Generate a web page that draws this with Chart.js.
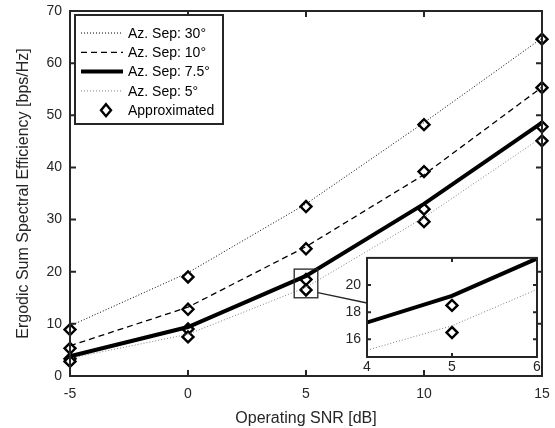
<!DOCTYPE html>
<html>
<head>
<meta charset="utf-8">
<script src="https://cdn.jsdelivr.net/npm/chart.js@4.4.0/dist/chart.umd.min.js"></script>
<style>
    html, body { margin: 0; padding: 0; background: #fff; }
    #wrap { position: relative; width: 555px; height: 428px; }
    #mainChart { position: absolute; left: 0; top: 0; }
    #insetChart { position: absolute; left: 335px; top: 250px; }
</style>
</head>
<body>
<div id="wrap">
    <canvas id="mainChart" width="555" height="428"></canvas>
    <canvas id="insetChart" width="215" height="130"></canvas>
</div>
<script>
// operating SNR points [dB]
const snrDb = [-5, 0, 5, 10, 15];

// simulated curves, one per azimuth separation
const sep30 = [9.6, 19.8, 33, 48.6, 64.8];
const sep10 = [5.8, 13.2, 24.8, 38.6, 55.4];
const sep75 = [3.8, 9.4, 19.2, 33.0, 48.6];
const sep5 = [3.4, 8.0, 17.0, 30.4, 45.8];

// approximated values (diamonds)
const approx30 = [8.9, 19.0, 32.5, 48.2, 64.6];
const approx10 = [5.3, 12.8, 24.4, 39.2, 55.3];
const approx75 = [3.3, 9.0, 18.5, 32.0, 47.8];
const approx5 = [2.8, 7.5, 16.5, 29.6, 45.1];

const xTicks = [-5, 0, 5, 10, 15];
const yTicks = [0, 10, 20, 30, 40, 50, 60, 70];
const insetXTicks = [4, 5, 6];
const insetYTicks = [16, 18, 20];

const seriesNames = ['Az. Sep: 30\u00B0', 'Az. Sep: 10\u00B0', 'Az. Sep: 7.5\u00B0', 'Az. Sep: 5\u00B0', 'Approximated'];

const FONT = '"Liberation Sans", Arial, sans-serif';
const AXIS_COLOR = '#262626';

const lineStyles = [
    { color: '#000', width: 1, dash: [1, 2] },
    { color: '#000', width: 1.3, dash: [6, 4] },
    { color: '#000', width: 4, dash: [] },
    { color: '#808080', width: 1, dash: [1, 2] }
];

function toPoints(ys) {
    return snrDb.map((x, i) => ({ x: x, y: ys[i] }));
}

function lineDataset(label, ys, st) {
    return {
        label: label, data: toPoints(ys), showLine: true,
        borderColor: st.color, borderWidth: st.width, borderDash: st.dash,
        pointRadius: 0, pointHoverRadius: 0, fill: false, tension: 0, clip: false
    };
}

const approxPoints = [approx30, approx10, approx75, approx5].flatMap(toPoints);

function markerDataset(pts) {
    return {
        label: 'Approximated', data: pts, showLine: false,
        pointStyle: 'rectRot', pointRadius: 5.5, pointBorderWidth: 2.4,
        pointBackgroundColor: '#fff', pointBorderColor: '#000', clip: false
    };
}

function drawDiamond(ctx, x, y) {
    ctx.save();
    ctx.beginPath();
    ctx.moveTo(x, y - 6); ctx.lineTo(x + 5, y); ctx.lineTo(x, y + 6); ctx.lineTo(x - 5, y);
    ctx.closePath();
    ctx.fillStyle = '#fff'; ctx.fill();
    ctx.lineWidth = 2.4; ctx.strokeStyle = '#000'; ctx.stroke();
    ctx.restore();
}

// box around the axes with inward ticks on all four sides
const boxTicks = {
    id: 'boxTicks',
    afterDatasetsDraw(chart, args, opts) {
        const { ctx, chartArea: a, scales } = chart;
        const len = opts.len || 5;
        ctx.save();
        ctx.strokeStyle = AXIS_COLOR;
        ctx.lineWidth = opts.width || 2;
        ctx.setLineDash([]);
        ctx.strokeRect(a.left, a.top, a.right - a.left, a.bottom - a.top);
        ctx.beginPath();
        scales.x.ticks.forEach(t => {
            const px = scales.x.getPixelForValue(t.value);
            ctx.moveTo(px, a.bottom); ctx.lineTo(px, a.bottom - len);
            ctx.moveTo(px, a.top); ctx.lineTo(px, a.top + len);
        });
        scales.y.ticks.forEach(t => {
            const py = scales.y.getPixelForValue(t.value);
            ctx.moveTo(a.left, py); ctx.lineTo(a.left + len, py);
            ctx.moveTo(a.right, py); ctx.lineTo(a.right - len, py);
        });
        ctx.stroke();
        ctx.restore();
    }
};

// zoom rectangle + connector toward the inset
const zoomBox = {
    id: 'zoomBox',
    afterDatasetsDraw(chart) {
        const { ctx, scales: { x, y } } = chart;
        const l = x.getPixelForValue(4.5), r = x.getPixelForValue(5.5);
        const t = y.getPixelForValue(20.5), b = y.getPixelForValue(15);
        ctx.save();
        ctx.strokeStyle = AXIS_COLOR;
        ctx.lineWidth = 1.3;
        ctx.strokeRect(l, t, r - l, b - t);
        ctx.beginPath();
        ctx.moveTo(r, y.getPixelForValue(16));
        ctx.lineTo(367, 303);
        ctx.stroke();
        ctx.restore();
    }
};

const legendBox = {
    id: 'legendBox',
    afterDraw(chart) {
        const ctx = chart.ctx;
        const left = 75, top = 15, w = 148, h = 109;
        ctx.save();
        ctx.fillStyle = '#fff';
        ctx.fillRect(left, top, w, h);
        ctx.strokeStyle = AXIS_COLOR;
        ctx.lineWidth = 2;
        ctx.strokeRect(left, top, w, h);
        ctx.font = '14px ' + FONT;
        ctx.textBaseline = 'middle';
        ctx.fillStyle = '#000';
        seriesNames.forEach((name, i) => {
            const cy = top + 18 + i * 19.3;
            if (i < 4) {
                const st = lineStyles[i];
                ctx.beginPath();
                ctx.setLineDash(st.dash);
                ctx.lineWidth = st.width;
                ctx.strokeStyle = st.color;
                ctx.moveTo(81, cy); ctx.lineTo(123, cy);
                ctx.stroke();
                ctx.setLineDash([]);
            } else {
                drawDiamond(ctx, 106, cy);
            }
            ctx.fillStyle = '#000';
            ctx.fillText(name, 128, cy + 1);
        });
        ctx.restore();
    }
};

const whiteArea = {
    id: 'whiteArea',
    beforeDraw(chart) {
        const { ctx, chartArea: a } = chart;
        ctx.save();
        ctx.fillStyle = '#fff';
        ctx.fillRect(a.left, a.top, a.right - a.left, a.bottom - a.top);
        ctx.restore();
    }
};

const tickFont = { family: FONT, size: 14 };
const noGrid = { display: false, drawTicks: false };

function fitX(h) {
    return s => { s.height = h; s.paddingLeft = 0; s.paddingRight = 0; };
}
function fitY(w) {
    return s => { s.width = w; s.paddingTop = 0; s.paddingBottom = 0; };
}

new Chart(document.getElementById('mainChart'), {
    type: 'scatter',
    data: {
        datasets: [
            lineDataset(seriesNames[0], sep30, lineStyles[0]),
            lineDataset(seriesNames[1], sep10, lineStyles[1]),
            lineDataset(seriesNames[2], sep75, lineStyles[2]),
            lineDataset(seriesNames[3], sep5, lineStyles[3]),
            markerDataset(approxPoints)
        ]
    },
    options: {
        responsive: false, animation: false,
        layout: { padding: { top: 11, right: 13, left: 0, bottom: 0 } },
        plugins: { legend: { display: false }, tooltip: { enabled: false }, boxTicks: { len: 6, width: 2 } },
        scales: {
            x: {
                type: 'linear', min: -5, max: 15,
                afterBuildTicks: s => { s.ticks = xTicks.map(v => ({ value: v })); },
                afterFit: fitX(52),
                grid: noGrid, border: { display: false },
                ticks: { font: tickFont, color: AXIS_COLOR, padding: 10, maxRotation: 0 },
                title: { display: true, text: 'Operating SNR [dB]', font: { family: FONT, size: 16 }, color: AXIS_COLOR, padding: { top: 2, bottom: 0 } }
            },
            y: {
                type: 'linear', min: 0, max: 70,
                afterBuildTicks: s => { s.ticks = yTicks.map(v => ({ value: v })); },
                afterFit: fitY(70),
                grid: noGrid, border: { display: false },
                ticks: { font: tickFont, color: AXIS_COLOR, padding: 8 },
                title: { display: true, text: 'Ergodic Sum Spectral Efficiency [bps/Hz]', font: { family: FONT, size: 16 }, color: AXIS_COLOR, padding: { top: 14, bottom: 0 } }
            }
        }
    },
    plugins: [boxTicks, zoomBox, legendBox]
});

// inset zoom on 4..6 dB
new Chart(document.getElementById('insetChart'), {
    type: 'scatter',
    data: {
        datasets: [
            lineDataset(seriesNames[2], sep75, lineStyles[2]),
            lineDataset(seriesNames[3], sep5, lineStyles[3]),
            markerDataset(toPoints(approx75).concat(toPoints(approx5)).filter(p => p.x === 5))
        ].map(d => Object.assign(d, { clip: 0 }))
    },
    options: {
        responsive: false, animation: false,
        layout: { padding: { top: 7, right: 13, left: 0, bottom: 0 } },
        plugins: { legend: { display: false }, tooltip: { enabled: false }, boxTicks: { len: 4, width: 2 } },
        scales: {
            x: {
                type: 'linear', min: 4, max: 6,
                afterBuildTicks: s => { s.ticks = insetXTicks.map(v => ({ value: v })); },
                afterFit: fitX(23),
                grid: noGrid, border: { display: false },
                ticks: { font: tickFont, color: AXIS_COLOR, padding: 2, maxRotation: 0 }
            },
            y: {
                type: 'linear', min: 14.7, max: 22,
                afterBuildTicks: s => { s.ticks = insetYTicks.map(v => ({ value: v })); },
                afterFit: fitY(32),
                grid: noGrid, border: { display: false },
                ticks: { font: tickFont, color: AXIS_COLOR, padding: 6 }
            }
        }
    },
    plugins: [whiteArea, boxTicks]
});
</script>
</body>
</html>
